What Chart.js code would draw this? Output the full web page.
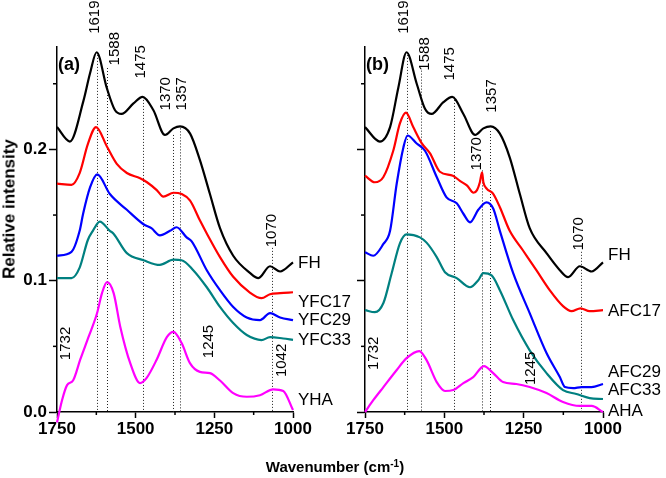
<!DOCTYPE html>
<html>
<head>
<meta charset="utf-8">
<script src="https://cdn.jsdelivr.net/npm/chart.js@4.4.1/dist/chart.umd.min.js"></script>
<style>
  body { margin: 0; background: #fff; }
  #cadre { position: relative; width: 666px; height: 478px; font-family: "Liberation Sans", Arial, sans-serif; }
  #cadre canvas { position: absolute; left: 0; top: 0; }
  .titre { position: absolute; font-weight: bold; color: #000; white-space: nowrap; line-height: 1; }
  #titre-y { left: 9px; top: 209px; font-size: 17px; transform: translate(-50%, -50%) rotate(-90deg); }
  #titre-x { left: 335px; top: 466px; font-size: 15px; transform: translate(-50%, -50%); }
  #titre-x sup { font-size: 10px; vertical-align: 5px; line-height: 0; }
</style>
</head>
<body>
<div id="cadre">
  <canvas id="panneau-a" width="666" height="478"></canvas>
  <canvas id="panneau-b" width="666" height="478"></canvas>
  <div class="titre" id="titre-y">Relative intensity</div>
  <div class="titre" id="titre-x">Wavenumber (cm<sup>-1</sup>)</div>
</div>
<script>
// =============================================================
//  Spectres (a) et (b) : intensité relative vs nombre d'onde
// =============================================================

// --- Axes ---
const xTicks = [1750, 1500, 1250, 1000];
const xMinorTicks = [1625, 1375, 1125];
const yTicks = [0, 0.1, 0.2];
const yTickLabels = ['0.0', '0.1', '0.2'];
const yMinorTicks = [0.05, 0.15, 0.25];

// --- Panneau (a) ---
const seriesA = ['FH', 'YFC17', 'YFC29', 'YFC33', 'YHA'];
const fhA_w = [1750, 1709, 1666, 1645, 1624, 1592, 1566, 1545, 1507, 1478, 1444, 1407, 1380, 1359, 1327, 1296, 1264, 1232, 1190, 1137, 1110, 1073, 1041, 1000];
const fhA_y = [0.217, 0.206, 0.237, 0.258, 0.274, 0.247, 0.230, 0.227, 0.235, 0.240, 0.230, 0.211, 0.216, 0.2175, 0.212, 0.192, 0.166, 0.140, 0.119, 0.106, 0.102, 0.111, 0.107, 0.114];
const yfc17_w = [1750, 1704, 1678, 1652, 1626, 1591, 1560, 1528, 1486, 1464, 1433, 1412, 1380, 1354, 1327, 1296, 1274, 1232, 1190, 1137, 1100, 1073, 1041, 1000];
const yfc17_y = [0.174, 0.173, 0.182, 0.204, 0.217, 0.202, 0.189, 0.182, 0.178, 0.175, 0.169, 0.164, 0.167, 0.166, 0.161, 0.146, 0.136, 0.118, 0.103, 0.091, 0.0867, 0.0897, 0.0905, 0.0912];
const yfc29_w = [1750, 1704, 1678, 1667, 1645, 1622, 1582, 1528, 1475, 1450, 1423, 1391, 1370, 1338, 1322, 1274, 1232, 1190, 1147, 1105, 1073, 1041, 1000];
const yfc29_y = [0.119, 0.122, 0.138, 0.151, 0.171, 0.181, 0.166, 0.154, 0.143, 0.140, 0.1346, 0.138, 0.1407, 0.133, 0.130, 0.108, 0.0928, 0.080, 0.072, 0.070, 0.0753, 0.072, 0.070];
const yfc33_w = [1750, 1704, 1678, 1652, 1636, 1614, 1582, 1571, 1528, 1475, 1423, 1380, 1354, 1317, 1274, 1232, 1190, 1147, 1100, 1073, 1031, 1000];
const yfc33_y = [0.102, 0.102, 0.110, 0.131, 0.138, 0.145, 0.138, 0.136, 0.121, 0.1156, 0.112, 0.116, 0.1156, 0.108, 0.095, 0.080, 0.0677, 0.0586, 0.0548, 0.057, 0.056, 0.055];
const yha_w = [1750, 1734, 1718, 1699, 1676, 1650, 1623, 1607, 1591, 1570, 1549, 1517, 1486, 1465, 1433, 1401, 1380, 1354, 1327, 1296, 1264, 1232, 1190, 1147, 1105, 1063, 1031, 1000];
const yha_y = [-0.008, 0.009, 0.0205, 0.024, 0.040, 0.057, 0.075, 0.0905, 0.0989, 0.0905, 0.065, 0.037, 0.022, 0.026, 0.040, 0.057, 0.061, 0.0525, 0.037, 0.0306, 0.0296, 0.024, 0.0144, 0.0116, 0.0128, 0.0173, 0.016, 0.0015];

// --- Panneau (b) ---
const seriesB = ['FH', 'AFC17', 'AFC29', 'AFC33', 'AHA'];
const fhB_w = [1750, 1703, 1671, 1645, 1619, 1587, 1561, 1540, 1503, 1475, 1440, 1403, 1377, 1354, 1325, 1294, 1262, 1231, 1178, 1136, 1110, 1073, 1036, 1000];
const fhB_y = [0.217, 0.206, 0.217, 0.247, 0.274, 0.250, 0.231, 0.227, 0.236, 0.240, 0.227, 0.211, 0.216, 0.2175, 0.212, 0.194, 0.166, 0.140, 0.121, 0.108, 0.1027, 0.111, 0.107, 0.114];
const afc17_w = [1750, 1719, 1692, 1661, 1640, 1621, 1598, 1572, 1545, 1514, 1473, 1451, 1429, 1408, 1397, 1388, 1381, 1377, 1366, 1347, 1325, 1294, 1252, 1210, 1168, 1126, 1099, 1071, 1042, 1000];
const afc17_y = [0.180, 0.175, 0.179, 0.199, 0.2198, 0.228, 0.217, 0.205, 0.197, 0.183, 0.180, 0.176, 0.1726, 0.167, 0.169, 0.175, 0.1825, 0.175, 0.170, 0.1665, 0.156, 0.138, 0.123, 0.108, 0.0928, 0.0806, 0.0768, 0.079, 0.0768, 0.0776];
const afc29_w = [1750, 1724, 1692, 1671, 1650, 1629, 1616, 1587, 1561, 1524, 1493, 1461, 1440, 1419, 1393, 1367, 1346, 1325, 1283, 1231, 1178, 1136, 1120, 1094, 1068, 1036, 1000];
const afc29_y = [0.1217, 0.119, 0.128, 0.138, 0.174, 0.2015, 0.2106, 0.2045, 0.199, 0.179, 0.1635, 0.159, 0.151, 0.1445, 0.154, 0.1597, 0.155, 0.138, 0.1057, 0.0753, 0.0449, 0.0266, 0.019, 0.0182, 0.019, 0.019, 0.0213];
const afc33_w = [1750, 1719, 1692, 1666, 1640, 1619, 1577, 1556, 1524, 1498, 1461, 1419, 1393, 1377, 1351, 1325, 1283, 1231, 1178, 1126, 1084, 1042, 1000];
const afc33_y = [0.0776, 0.076, 0.083, 0.1057, 0.1285, 0.1353, 0.133, 0.129, 0.118, 0.1065, 0.102, 0.095, 0.1004, 0.1057, 0.104, 0.0928, 0.070, 0.047, 0.0296, 0.0167, 0.0137, 0.0106, 0.0099];
const aha_w = [1750, 1724, 1692, 1650, 1619, 1579, 1556, 1524, 1498, 1472, 1440, 1409, 1375, 1346, 1315, 1273, 1231, 1178, 1126, 1073, 1036, 1000];
const aha_y = [0.0, 0.009, 0.019, 0.032, 0.041, 0.0464, 0.0395, 0.0228, 0.016, 0.0167, 0.022, 0.0266, 0.035, 0.0296, 0.0228, 0.0213, 0.019, 0.0144, 0.0076, 0.0046, 0.0046, 0.0];

const couleurs = ['#000000', '#ff0000', '#0000ff', '#008080', '#ff00ff'];
const police = '"Liberation Sans", Arial, sans-serif';

// Lignes pointillées [nombre d'onde, haut] et étiquettes [texte, nombre d'onde, bas]
const lignesA = [[1622, 0.272], [1591, 0.262], [1476, 0.240], [1382, 0.211], [1359, 0.216], [1068, 0.125]];
const picsA = [['1619', 1629, 0.288], ['1588', 1566, 0.264], ['1475', 1483, 0.254], ['1370', 1404, 0.2297], ['1357', 1353, 0.2297],
               ['1070', 1067, 0.1255], ['1732', 1721, 0.0395], ['1245', 1267, 0.041], ['1042', 1035, 0.0266]];
const lignesB = [[1619, 0.272], [1575, 0.260], [1470, 0.240], [1381, 0.184], [1357, 0.214], [1068, 0.122]];
const picsB = [['1619', 1627, 0.288], ['1588', 1561, 0.260], ['1475', 1482, 0.2525], ['1357', 1350, 0.228], ['1370', 1397, 0.184],
               ['1070', 1076, 0.123], ['1732', 1722, 0.032], ['1245', 1227, 0.0205]];

const points = (w, v) => w.map((x, i) => ({ x, y: v[i] }));

const jeux = (noms, paires) => paires.map(([w, v], i) => ({
    label: noms[i],
    data: points(w, v),
    borderColor: couleurs[i],
    borderWidth: 2.2,
    pointRadius: 0,
    cubicInterpolationMode: 'monotone',
    clip: false,
}));

// --- Décor : pointillés, petites graduations, étiquettes ---
const decor = {
    id: 'decor',
    beforeDatasetsDraw(chart, args, o) {
        const { ctx, scales: { x, y } } = chart;
        ctx.save();
        ctx.strokeStyle = '#222';
        ctx.lineWidth = 1;
        ctx.setLineDash([1, 2]);
        o.lignes.forEach(([w, haut]) => {
            const px = Math.round(x.getPixelForValue(w)) + 0.5;
            ctx.beginPath();
            ctx.moveTo(px, y.getPixelForValue(haut));
            ctx.lineTo(px, y.getPixelForValue(0));
            ctx.stroke();
        });
        ctx.restore();
    },
    afterDraw(chart, args, o) {
        const { ctx, chartArea: ca, scales: { x, y } } = chart;
        ctx.save();
        ctx.strokeStyle = '#000';
        ctx.lineWidth = 1.5;
        yMinorTicks.forEach((v) => {
            const py = y.getPixelForValue(v);
            ctx.beginPath(); ctx.moveTo(ca.left - 4, py); ctx.lineTo(ca.left, py); ctx.stroke();
        });
        xMinorTicks.forEach((w) => {
            const px = x.getPixelForValue(w);
            ctx.beginPath(); ctx.moveTo(px, ca.bottom); ctx.lineTo(px, ca.bottom + 3); ctx.stroke();
        });

        ctx.fillStyle = '#000';
        ctx.font = '15px ' + police;
        ctx.textAlign = 'left';
        ctx.textBaseline = 'middle';
        o.pics.forEach(([txt, w, bas]) => {
            ctx.save();
            ctx.translate(x.getPixelForValue(w), y.getPixelForValue(bas));
            ctx.rotate(-Math.PI / 2);
            ctx.fillText(txt, 0, 0);
            ctx.restore();
        });

        ctx.font = '17px ' + police;
        o.noms.forEach((nom, i) => {
            ctx.fillText(nom, ca.right + 5, y.getPixelForValue(o.posNoms[i]));
        });

        ctx.font = 'bold 18px ' + police;
        ctx.fillText(o.panneau, ca.left + 1, ca.top + 18);
        ctx.restore();
    },
};

const axeX = () => ({
    type: 'linear', reverse: true, min: 1000, max: 1750,
    afterBuildTicks: (s) => { s.ticks = xTicks.map((v) => ({ value: v })); },
    afterFit: (s) => { s.height = 66; },
    ticks: { font: { family: police, size: 17, weight: 'bold' }, color: '#000', padding: 1, maxRotation: 0, autoSkip: false, callback: (v) => String(v) },
    grid: { drawOnChartArea: false, tickLength: 6, tickColor: '#000', tickWidth: 1.5 },
    border: { color: '#000', width: 1.5 },
});

const axeY = (largeur, etiquettes) => ({
    min: 0, max: 0.278,
    afterBuildTicks: (s) => { s.ticks = yTicks.map((v) => ({ value: v })); },
    afterFit: (s) => { s.width = largeur; },
    ticks: { display: etiquettes, font: { family: police, size: 17, weight: 'bold' }, color: '#000', padding: 2,
             callback: (v, i) => yTickLabels[i] },
    grid: { drawOnChartArea: false, tickLength: 8, tickColor: '#000', tickWidth: 1.5 },
    border: { color: '#000', width: 1.5 },
});

const panneau = (id, jeuxDonnees, droite, largeurY, etiquettesY, deco) => new Chart(document.getElementById(id), {
    type: 'line',
    data: { datasets: jeuxDonnees },
    options: {
        responsive: false,
        animation: false,
        devicePixelRatio: 1,
        layout: { padding: { left: 0, right: droite, top: 47, bottom: 0 } },
        scales: { x: axeX(), y: axeY(largeurY, etiquettesY) },
        plugins: { legend: { display: false }, tooltip: { enabled: false }, decor: deco },
    },
    plugins: [decor],
});

panneau('panneau-a',
    jeux(seriesA, [[fhA_w, fhA_y], [yfc17_w, yfc17_y], [yfc29_w, yfc29_y], [yfc33_w, yfc33_y], [yha_w, yha_y]]),
    373, 57, true,
    { lignes: lignesA, pics: picsA, noms: seriesA, posNoms: [0.1133, 0.0837, 0.070, 0.0548, 0.0091], panneau: '(a)' });

panneau('panneau-b',
    jeux(seriesB, [[fhB_w, fhB_y], [afc17_w, afc17_y], [afc29_w, afc29_y], [afc33_w, afc33_y], [aha_w, aha_y]]),
    63, 365, false,
    { lignes: lignesB, pics: picsB, noms: seriesB, posNoms: [0.1194, 0.0768, 0.0304, 0.0167, 0.0008], panneau: '(b)' });
</script>
</body>
</html>
